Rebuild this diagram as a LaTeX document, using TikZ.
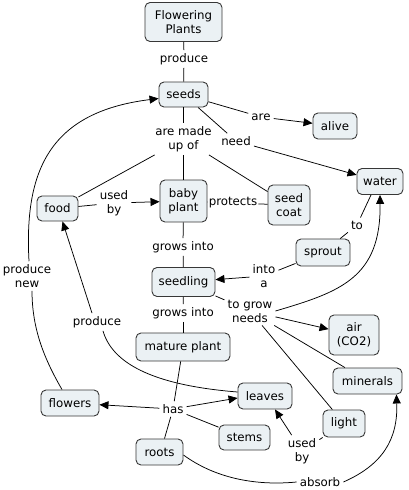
\documentclass[tikz,border=0pt]{standalone}
\usepackage{fontspec}
\setmainfont{DejaVu Sans}
\usetikzlibrary{arrows.meta}
\definecolor{cfill}{RGB}{235,241,244}
\definecolor{cborder}{RGB}{55,55,55}
\begin{document}
\begin{tikzpicture}[x=1pt,y=1pt,
  concept/.style={draw=cborder, fill=cfill, rounded corners=5pt, line width=0.9pt, inner sep=0pt, align=center, font=\fontsize{11.8}{14}\selectfont},
  link/.style={inner sep=3pt, align=center, font=\fontsize{11.8}{14}\selectfont},
  ln/.style={line width=0.75pt, draw=black},
  arr/.style={ln, -{Triangle[length=9pt,width=8pt]}}]
\useasboundingbox (0,0) rectangle (409,-490);
% concepts
\node[concept, minimum width=77pt, minimum height=39pt] (fp) at (183.5,-22) {Flowering\\Plants};
\node[concept, minimum width=49pt, minimum height=25pt] (seeds) at (183.5,-94.5) {seeds};
\node[concept, minimum width=44pt, minimum height=26pt] (alive) at (335,-126) {alive};
\node[concept, minimum width=46pt, minimum height=26pt] (water) at (380,-181.5) {water};
\node[concept, minimum width=41pt, minimum height=25pt] (food) at (57.5,-208.5) {food};
\node[concept, minimum width=47pt, minimum height=42pt] (baby) at (183.5,-201) {baby\\plant};
\node[concept, minimum width=42pt, minimum height=40pt] (coat) at (289,-205) {seed\\coat};
\node[concept, minimum width=54pt, minimum height=27pt] (sprout) at (323,-252.5) {sprout};
\node[concept, minimum width=63pt, minimum height=29pt] (seedling) at (183.5,-282) {seedling};
\node[concept, minimum width=50pt, minimum height=40pt] (air) at (354,-335) {air\\(CO2)};
\node[concept, minimum width=94pt, minimum height=28pt] (mature) at (183,-347) {mature plant};
\node[concept, minimum width=69pt, minimum height=26pt] (minerals) at (367.5,-381) {minerals};
\node[concept, minimum width=54pt, minimum height=26pt] (leaves) at (265,-396) {leaves};
\node[concept, minimum width=58pt, minimum height=26pt] (flowers) at (70,-403) {flowers};
\node[concept, minimum width=42pt, minimum height=27pt] (light) at (344,-423.5) {light};
\node[concept, minimum width=51pt, minimum height=25pt] (stems) at (244.5,-437.5) {stems};
\node[concept, minimum width=47pt, minimum height=26pt] (roots) at (159.5,-452) {roots};
% linking phrases
\node[link] (lproduce) at (184,-59) {produce};
\node[link] (lmade) at (183.5,-139) {are made\\up of};
\node[link] (lare) at (261,-117) {are};
\node[link] (lneed) at (236,-141) {need};
\node[link] (lused) at (114,-203) {used\\by};
\node[link, inner sep=1pt] (lprotects) at (233,-203) {protects};
\node[link] (lgrowsa) at (183,-247) {grows into};
\node[link] (lto) at (357,-225) {to};
\node[link] (lintoa) at (264,-276) {into\\a};
\node[link] (ltogrow) at (250,-311) {to grow\\needs};
\node[link] (lgrowsb) at (183,-313) {grows into};
\node[link] (lprodnew) at (27,-276) {produce\\new};
\node[link] (lproduceb) at (97,-322) {produce};
\node[link] (lhas) at (173,-409) {has};
\node[link] (lusedb) at (302,-451) {used\\by};
\node[link] (labsorb) at (320,-482) {absorb};
% connectors
\draw[ln] (fp) -- (lproduce);
\draw[ln] (lproduce) -- (seeds);
\draw[ln] (seeds) -- (lare);
\draw[arr] (lare) -- (alive);
\draw[ln] (seeds) -- (lneed);
\draw[arr] (lneed) -- (water);
\draw[ln] (seeds) -- (lmade);
\draw[ln] (lmade) -- (baby);
\draw[ln] (lmade) -- (food);
\draw[ln] (lmade) -- (coat);
\draw[ln] (food) -- (lused);
\draw[arr] (lused) -- (baby);
\draw[ln] (baby) -- (lprotects);
\draw[ln] (lprotects) -- (coat);
\draw[ln] (baby) -- (lgrowsa);
\draw[ln] (lgrowsa) -- (seedling);
\draw[ln] (sprout) -- (lto);
\draw[ln] (lto) -- ([xshift=-9pt]water.south);
\draw[ln] (sprout) -- (lintoa);
\draw[arr] (lintoa) -- (seedling);
\draw[ln] (seedling) -- (ltogrow);
\draw[arr] (ltogrow.east) .. controls (340,-292) and (381,-278) .. (water.south);
\draw[arr] (ltogrow) -- (air);
\draw[ln] (ltogrow) -- (minerals);
\draw[ln] (ltogrow) -- (light);
\draw[ln] (seedling) -- (lgrowsb);
\draw[ln] (lgrowsb) -- (mature);
\draw[ln] (mature) -- (lhas);
\draw[arr] (lhas) -- (flowers);
\draw[arr] (lhas) -- ([yshift=-2pt]leaves.west);
\draw[ln] (lhas) -- (stems);
\draw[ln] (lhas) -- ([xshift=5pt]roots.north);
\draw[ln] ([xshift=-8pt]flowers.north) .. controls (45,-360) and (32,-330) .. ([xshift=5pt]lprodnew.south);
\draw[arr] ([xshift=2pt]lprodnew.north) .. controls (24,-170) and (50,-112) .. ([yshift=-4pt]seeds.west);
\draw[ln] ([yshift=4pt]leaves.west) .. controls (150,-385) and (112,-362) .. ([xshift=6pt]lproduceb.south);
\draw[arr] ([xshift=-5pt]lproduceb.north) -- ([xshift=5pt]food.south);
\draw[ln] (light) -- (lusedb);
\draw[arr] (lusedb) -- ([xshift=10pt]leaves.south);
\draw[ln] ([yshift=-3pt]roots.east) .. controls (215,-478) and (255,-486) .. (labsorb.west);
\draw[arr] (labsorb.east) .. controls (382,-465) and (398,-440) .. ([xshift=-6pt]minerals.south east);
\end{tikzpicture}
\end{document}
